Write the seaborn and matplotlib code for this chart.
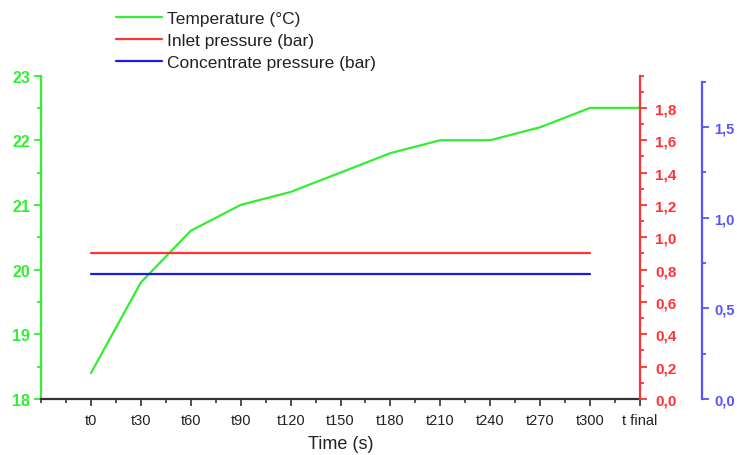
import matplotlib
matplotlib.use("Agg")
import matplotlib.pyplot as plt
import seaborn as sns
import pandas as pd
from matplotlib.ticker import MultipleLocator, FuncFormatter, FixedLocator

# ==============================================================
# DATA
# ==============================================================
time_labels = ["t0", "t30", "t60", "t90", "t120", "t150", "t180",
               "t210", "t240", "t270", "t300", "t final"]
temperature = [18.4, 19.8, 20.6, 21.0, 21.2, 21.5, 21.8, 22.0, 22.0, 22.2, 22.5, 22.5]
inlet_pressure = [0.9] * 11          # t0 .. t300
concentrate_pressure = [0.69] * 11   # t0 .. t300
red_ticks = [0.0, 0.2, 0.4, 0.6, 0.8, 1.0, 1.2, 1.4, 1.6, 1.8]

GREEN = "#33ee33"
RED = "#ff3333"
BLUE = "#1a1aee"
BLUE_AXIS = "#5555ff"

pos = list(range(1, len(time_labels) + 1))
df_temp = pd.DataFrame({"pos": pos, "value": temperature})
df_in = pd.DataFrame({"pos": pos[:len(inlet_pressure)], "value": inlet_pressure})
df_conc = pd.DataFrame({"pos": pos[:len(concentrate_pressure)], "value": concentrate_pressure})

# ==============================================================
# STYLE
# ==============================================================
sns.set_style("white")
plt.rcParams["font.family"] = ["Liberation Sans", "DejaVu Sans"]

fig = plt.figure(figsize=(7.37, 4.56), dpi=100)
ax = fig.add_axes([41 / 737, 1 - 400 / 456, 599 / 737, 323.5 / 456])
ax2 = ax.twinx()
ax3 = ax.twinx()

sns.lineplot(data=df_temp, x="pos", y="value", ax=ax, color=GREEN, lw=1.6,
             label="Temperature (°C)", legend=False)
sns.lineplot(data=df_in, x="pos", y="value", ax=ax2, color=RED, lw=1.6,
             label="Inlet pressure (bar)", legend=False)
sns.lineplot(data=df_conc, x="pos", y="value", ax=ax3, color=BLUE, lw=1.6,
             label="Concentrate pressure (bar)", legend=False)

# x axis
ax.set_xlim(0, 12)
ax.xaxis.set_major_locator(FixedLocator(pos))
ax.set_xticklabels(time_labels)
ax.xaxis.set_minor_locator(MultipleLocator(0.5))
ax.set_xlabel("Time (s)", fontsize=13, color="#222222", labelpad=6)
ax.tick_params(axis="x", which="both", direction="out", bottom=True, colors="#333333",
               labelcolor="#222222", labelsize=10.5, pad=5)
ax.tick_params(axis="x", which="major", length=5, width=1.2)
ax.tick_params(axis="x", which="minor", length=3, width=1.2)

# left (temperature)
ax.set_ylim(18, 23)
ax.yaxis.set_major_locator(MultipleLocator(1))
ax.yaxis.set_minor_locator(MultipleLocator(0.5))
ax.set_ylabel("")
ax.tick_params(axis="y", which="both", direction="out", left=True, colors=GREEN,
               labelsize=11.5, pad=3)
ax.tick_params(axis="y", which="major", length=5, width=1.3)
ax.tick_params(axis="y", which="minor", length=3, width=1.3)

# red axis (inlet pressure)
comma = FuncFormatter(lambda v, p: f"{v:.1f}".replace(".", ","))
ax2.set_ylim(0, 2.0)
ax2.yaxis.set_major_locator(FixedLocator(red_ticks))
ax2.yaxis.set_minor_locator(MultipleLocator(0.1))
ax2.yaxis.set_major_formatter(comma)
ax2.set_ylabel("")
ax2.tick_params(axis="y", which="both", direction="out", right=True, colors=RED,
                labelsize=11, pad=6)
ax2.tick_params(axis="y", which="major", length=5, width=1.3)
ax2.tick_params(axis="y", which="minor", length=3, width=1.3)

# blue axis (concentrate pressure)
ax3.spines["right"].set_position(("axes", 1.1035))
ax3.set_ylim(0, 1.785)
ax3.spines["right"].set_bounds(0, 1.75)
ax3.yaxis.set_major_locator(MultipleLocator(0.5))
ax3.yaxis.set_minor_locator(MultipleLocator(0.25))
ax3.yaxis.set_major_formatter(comma)
ax3.set_ylabel("")
ax3.tick_params(axis="y", which="both", direction="out", right=True, colors=BLUE_AXIS,
                labelsize=10.5, pad=4)
ax3.tick_params(axis="y", which="major", length=5, width=1.3)
ax3.tick_params(axis="y", which="minor", length=3, width=1.3)

for lab in ax.get_yticklabels() + ax2.get_yticklabels() + ax3.get_yticklabels():
    lab.set_fontweight("bold")

# spines
for a in (ax, ax2, ax3):
    for s in a.spines.values():
        s.set_visible(False)
    a.grid(False)
ax.spines["left"].set_visible(True)
ax.spines["left"].set_color(GREEN)
ax.spines["left"].set_linewidth(1.6)
ax.spines["bottom"].set_visible(True)
ax.spines["bottom"].set_color("#333333")
ax.spines["bottom"].set_linewidth(1.6)
ax2.spines["right"].set_visible(True)
ax2.spines["right"].set_color(RED)
ax2.spines["right"].set_linewidth(1.6)
ax3.spines["right"].set_visible(True)
ax3.spines["right"].set_color(BLUE_AXIS)
ax3.spines["right"].set_linewidth(1.6)

# legend above plot
handles = ax.get_lines()[:1] + ax2.get_lines()[:1] + ax3.get_lines()[:1]
labels = ["Temperature (°C)", "Inlet pressure (bar)", "Concentrate pressure (bar)"]
leg = fig.legend(handles, labels, loc="upper left", bbox_to_anchor=(116 / 737, 1 - 12 / 456),
                 frameon=False, fontsize=12.5, handlelength=2.65, handletextpad=0.3,
                 labelspacing=0.4, borderpad=0, borderaxespad=0)
for t in leg.get_texts():
    t.set_color("#222222")

fig.savefig("out.png", dpi=100)
